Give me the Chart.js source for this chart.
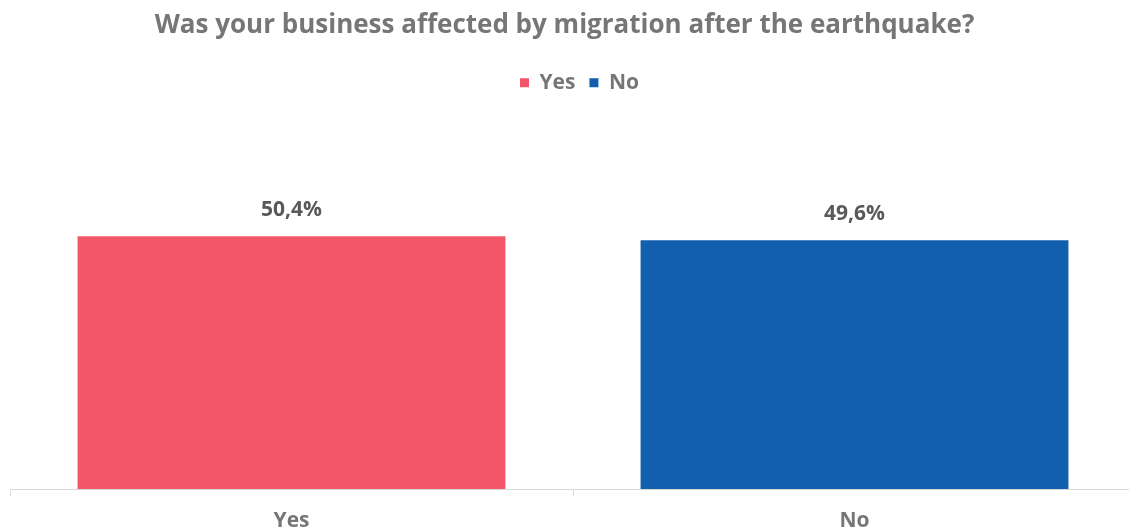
<!DOCTYPE html>
<html>
<head>
<meta charset="utf-8">
<script src="https://cdn.jsdelivr.net/npm/chart.js@4/dist/chart.umd.min.js"></script>
<style>
  html, body { margin: 0; padding: 0; background: #fff; overflow: hidden; }
  #wrap { width: 1129px; height: 532px; }
</style>
</head>
<body>
<div id="wrap"><canvas id="chart"></canvas></div>
<script>
const categories = ['Yes', 'No'];
const seriesNames = ['Yes', 'No'];
const yesValues = [50.4, null];
const noValues = [null, 49.6];
const titleText = 'Was your business affected by migration after the earthquake?';

const FONT = "'Open Sans', 'Noto Sans', sans-serif";
const GREY = '#767676';

// plot box
const PLOT = { left: 10, right: 1136, top: 188, bottom: 489 };
const LEGEND_SHIFT = 15; // legend sits a bit right of centre in the original

// draws "50,4%" above each bar
const valueLabels = {
    id: 'valueLabels',
    afterDatasetsDraw(chart) {
        const ctx = chart.ctx;
        ctx.save();
        ctx.font = `bold 21px ${FONT}`;
        ctx.fillStyle = '#595959';
        ctx.textAlign = 'center';
        ctx.textBaseline = 'middle';
        chart.data.datasets.forEach((ds, i) => {
            chart.getDatasetMeta(i).data.forEach((bar, j) => {
                const v = ds.data[j];
                if (v == null) return;
                ctx.fillText(v.toFixed(1).replace('.', ',') + '%', bar.x, bar.y - 26);
            });
        });
        ctx.restore();
    }
};

// pin the plot area (the x axis runs past the right edge in the original)
const pinPlot = {
    id: 'pinPlot',
    afterLayout(chart) {
        const ca = chart.chartArea;
        Object.assign(ca, PLOT);
        ca.width = PLOT.right - PLOT.left;
        ca.height = PLOT.bottom - PLOT.top;

        const x = chart.scales.x;
        x.left = PLOT.left; x.right = PLOT.right;
        x.width = PLOT.right - PLOT.left;
        const h = x.bottom - x.top;
        x.top = PLOT.bottom; x.bottom = PLOT.bottom + h;
        x.configure();

        const y = chart.scales.y;
        y.top = PLOT.top; y.bottom = PLOT.bottom;
        y.height = PLOT.bottom - PLOT.top;
        y.configure();

        chart.legend.left += LEGEND_SHIFT;
        chart.legend.right += LEGEND_SHIFT;
    }
};

new Chart(document.getElementById('chart'), {
    type: 'bar',
    data: {
        labels: categories,
        datasets: [
            { label: seriesNames[0], data: yesValues, backgroundColor: '#F25668' },
            { label: seriesNames[1], data: noValues, backgroundColor: '#115FAD' },
        ],
    },
    options: {
        responsive: true,
        maintainAspectRatio: false,
        animation: false,
        skipNull: true,
        categoryPercentage: 0.76,
        barPercentage: 1,
        plugins: {
            title: {
                display: true,
                text: titleText,
                color: GREY,
                font: { family: FONT, size: 26, weight: 'bold' },
                padding: { top: 10, bottom: 17 },
            },
            legend: {
                position: 'top',
                labels: {
                    color: GREY,
                    font: { family: FONT, size: 21, weight: 'bold' },
                    boxWidth: 9,
                    boxHeight: 9,
                    padding: 14,
                },
            },
            tooltip: { enabled: false },
        },
        scales: {
            x: {
                grid: {
                    offset: true,
                    drawOnChartArea: false,
                    drawTicks: true,
                    tickLength: 7,
                    color: '#d9d9d9',
                },
                border: { color: '#d9d9d9', width: 1 },
                ticks: {
                    color: GREY,
                    font: { family: FONT, size: 21, weight: 'bold' },
                    padding: 12,
                },
            },
            y: {
                display: false,
                min: 0,
                max: 60,
            },
        },
    },
    plugins: [valueLabels, pinPlot],
});
</script>
</body>
</html>
